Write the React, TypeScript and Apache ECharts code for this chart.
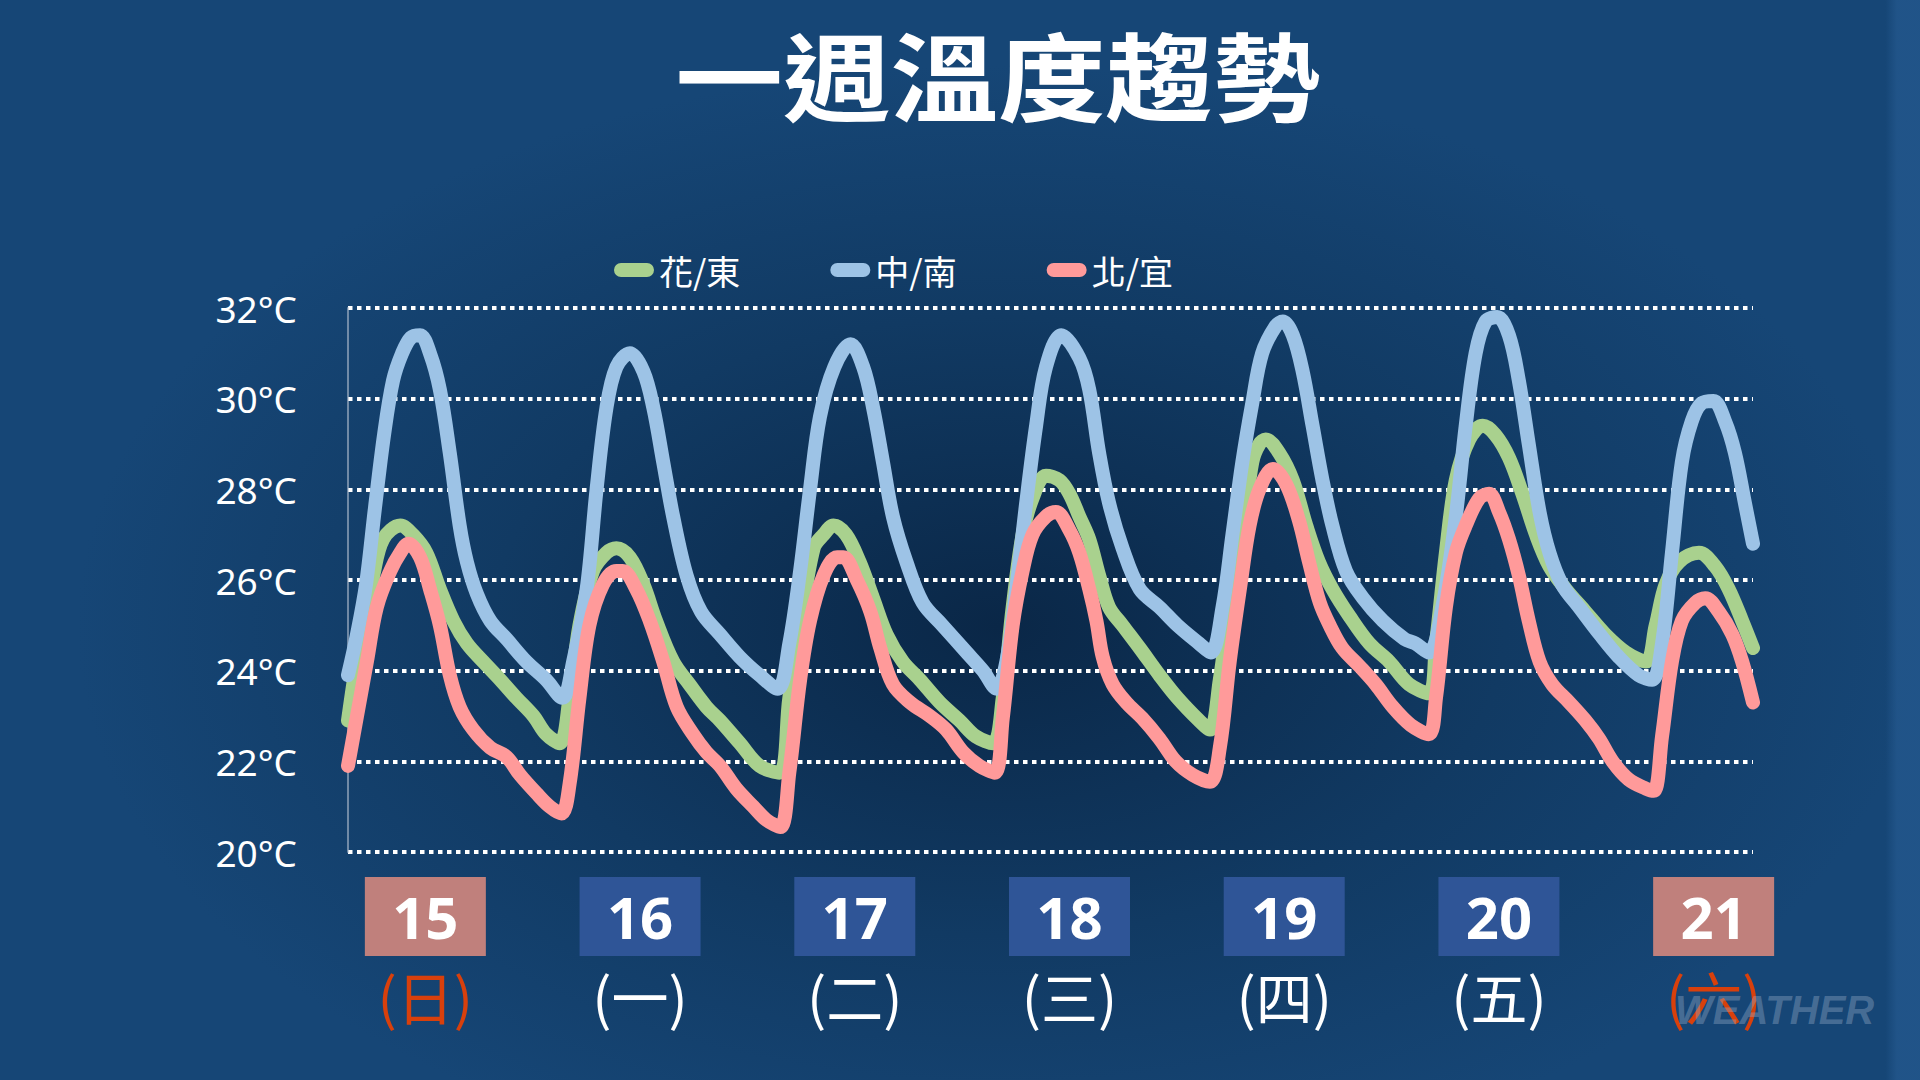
import React, { useEffect, useRef } from "react";
import * as echarts from "echarts";

const chartTitle = "一週溫度趨勢";
const seriesNames = ["花/東", "中/南", "北/宜"];
const seriesColors = ["#a9d18e", "#9dc3e6", "#ff9a9a"];
const dates = ["15", "16", "17", "18", "19", "20", "21"];
const weekdays = ["日", "一", "二", "三", "四", "五", "六"];
const weekendFlags = [true, false, false, false, false, false, true];
const yMin = 20;
const yMax = 32;
const yStep = 2;
const hourSpan = 156;

// [hours since first sample, °C]
const huaDong: [number, number][] = [
  [0, 22.9], [1.3, 24.6], [2.8, 26.1], [3.9, 26.9], [5.8, 27.2], [7.2, 27.0], [8.7, 26.6], [10.2, 25.8], [11.7, 25.1], [13.2, 24.6], [15, 24.2], [16.9, 23.8], [18.7, 23.4], [20.6, 23.0], [22, 22.6], [23.5, 22.4],
  [24.6, 23.4], [25.7, 25.0], [27.2, 26.2], [28.7, 26.6], [29.8, 26.7], [31.3, 26.5], [32.8, 25.9], [34.2, 25.1], [36.1, 24.2], [37.9, 23.7], [39.8, 23.2], [41.3, 22.9], [43.5, 22.4], [45.7, 21.9], [47.9, 21.75],
  [49, 23.4], [50.2, 25.0], [51.7, 26.7], [52.8, 27.0], [53.9, 27.2], [55.3, 27.0], [56.8, 26.4], [58.3, 25.6], [59.8, 24.8], [61.6, 24.2], [63.5, 23.8], [65.7, 23.3], [67.9, 22.9], [69.7, 22.55], [71.6, 22.4],
  [72.7, 23.4], [73.8, 25.4], [74.9, 27.0], [76, 27.8], [77.5, 28.3], [79, 28.2], [80.1, 27.9], [81.2, 27.4], [82.3, 26.9], [83.4, 26.1], [84.5, 25.4], [86, 25.0], [87.9, 24.5], [90.1, 23.9], [92.1, 23.4], [94.5, 22.9], [95.7, 22.7],
  [96.8, 23.8], [97.9, 25.4], [99.3, 27.0], [100.4, 28.6], [101.2, 29.0], [101.9, 29.1], [103.4, 28.8], [104.9, 28.2], [106.4, 27.2], [107.8, 26.4], [109.3, 25.8], [111.2, 25.2], [113.4, 24.6], [115.6, 24.2], [117.8, 23.7], [120, 23.5],
  [120.8, 24.6], [121.9, 26.6], [123, 28.2], [124.5, 29.1], [126, 29.4], [127.4, 29.2], [128.9, 28.7], [130.4, 27.9], [131.9, 27.0], [133.4, 26.3], [135.2, 25.8], [137.4, 25.3], [139.6, 24.8], [141.9, 24.4], [144.1, 24.2],
  [145.2, 25.0], [146.3, 25.9], [147.8, 26.4], [150, 26.6], [151.8, 26.3], [153.3, 25.8], [154.8, 25.1], [156, 24.5],
];

const zhongNan: [number, number][] = [
  [0, 23.9], [1, 24.8], [2, 25.9], [3, 27.6], [4, 29.2], [5, 30.4], [6, 31.0], [7, 31.35], [8, 31.4], [9.1, 31.0], [10.2, 30.2], [11.3, 28.8], [12.4, 27.2], [13.2, 26.4], [14.3, 25.7], [15.8, 25.1], [17.6, 24.7], [19.8, 24.2], [22, 23.8], [23.8, 23.4],
  [25, 24.2], [26.5, 25.8], [27.6, 28.0], [28.7, 29.8], [29.8, 30.7], [31.3, 31.0], [32.8, 30.6], [33.9, 29.8], [35, 28.6], [36.1, 27.4], [37.6, 26.1], [39.2, 25.3], [41.3, 24.8], [43.5, 24.3], [45.7, 23.9], [47.7, 23.6],
  [49, 24.6], [50.2, 26.2], [51.3, 28.0], [52.4, 29.6], [54, 30.7], [55.8, 31.2], [57.2, 30.7], [58.3, 29.8], [59.4, 28.6], [60.5, 27.4], [62, 26.4], [63.8, 25.5], [66, 25.0], [68.7, 24.4], [70.5, 24.0], [72, 23.6],
  [73.1, 24.2], [74.2, 25.8], [75.3, 27.7], [76.4, 29.4], [77.5, 30.7], [79.2, 31.4], [81.2, 30.9], [82.3, 30.2], [83.4, 28.8], [84.5, 27.7], [86, 26.7], [87.9, 25.8], [90.1, 25.4], [92.1, 25.0], [94.5, 24.6], [95.8, 24.4],
  [97.1, 25.4], [98.2, 27.0], [99.3, 28.6], [100.4, 29.9], [101.5, 31.0], [103, 31.6], [103.8, 31.7], [104.9, 31.4], [106, 30.6], [107.1, 29.4], [108.2, 28.2], [109.3, 27.2], [110.8, 26.2], [112.7, 25.6], [114.9, 25.1], [117.3, 24.7], [118.5, 24.6], [120, 24.4],
  [121.5, 25.4], [123, 27.4], [124.1, 29.4], [125.2, 31.0], [126.3, 31.7], [127.6, 31.8], [128.9, 31.4], [130, 30.4], [131.1, 29.0], [132.3, 27.5], [133.4, 26.6], [134.8, 25.9], [136.7, 25.4], [139, 24.8], [141.1, 24.3], [143.3, 23.9], [144.8, 23.8],
  [145.9, 24.6], [147, 26.6], [148.1, 28.6], [149.2, 29.5], [150.3, 29.9], [151.6, 29.95], [152.9, 29.5], [154, 28.8], [155.1, 27.7], [156, 26.8],
];

const beiYi: [number, number][] = [
  [0, 21.9], [1, 23.0], [2.1, 24.2], [3.2, 25.4], [4.7, 26.2], [5.8, 26.6], [6.7, 26.8], [8, 26.5], [9.1, 25.8], [10.2, 25.0], [11.3, 23.9], [12.4, 23.2], [13.9, 22.7], [15.8, 22.3], [17.6, 22.1], [19.1, 21.7], [20.9, 21.3], [22.4, 21.0], [23.7, 20.85],
  [24.6, 21.5], [25.7, 23.4], [26.8, 25.0], [28.3, 25.9], [29.8, 26.2], [30.5, 26.2], [32, 25.8], [33.5, 25.1], [35, 24.2], [36.5, 23.2], [38.3, 22.6], [39.8, 22.2], [41.3, 21.9], [43.1, 21.4], [45, 21.0], [46.5, 20.7], [48, 20.55],
  [49, 21.75], [50.2, 23.8], [51.3, 25.1], [52.8, 26.1], [54.3, 26.5], [55, 26.5], [56.5, 26.0], [58, 25.3], [59.1, 24.5], [60.5, 23.7], [62.4, 23.3], [64.6, 23.0], [66.4, 22.7], [68.3, 22.2], [70.1, 21.9], [71.8, 21.75],
  [72.7, 22.95], [73.8, 25.0], [74.9, 26.2], [76, 27.0], [77.5, 27.4], [78.6, 27.5], [80.1, 27.1], [81.2, 26.6], [82.3, 25.8], [83.1, 25.1], [83.8, 24.3], [84.9, 23.7], [86.4, 23.3], [88.2, 22.95], [90.1, 22.5], [91.9, 22.0], [93.8, 21.7], [95.7, 21.55],
  [96.8, 22.3], [97.9, 24.2], [99.1, 25.9], [100.1, 27.2], [101.2, 28.0], [102.7, 28.45], [104.2, 28.1], [105.6, 27.3], [106.7, 26.4], [107.9, 25.5], [109, 25.0], [110.4, 24.5], [112.3, 24.1], [114.1, 23.7], [116, 23.2], [118, 22.8], [120, 22.6],
  [120.8, 23.4], [121.9, 25.4], [123, 26.6], [124.1, 27.2], [125.6, 27.8], [126.7, 27.9], [127.8, 27.5], [128.9, 26.9], [130, 26.1], [131.1, 25.1], [132.3, 24.2], [133.7, 23.7], [135.6, 23.3], [137.4, 22.9], [138.9, 22.5], [140.4, 22.0], [142.2, 21.6], [144.1, 21.4], [145, 21.35],
  [145.9, 22.55], [147, 24.2], [148.1, 25.1], [149.6, 25.5], [150.7, 25.6], [152.2, 25.3], [153.7, 24.8], [154.8, 24.2], [156, 23.3],
];

const seriesData = [huaDong, zhongNan, beiYi];

export default function App() {
  const ref = useRef<HTMLDivElement>(null);

  useEffect(() => {
    if (!ref.current) return;
    const chart = echarts.init(ref.current, undefined, { renderer: "svg", width: 1920, height: 1080 });

    const cjk = '"Noto Sans CJK TC", "Noto Sans", sans-serif';

    chart.setOption({
      animation: false,
      backgroundColor: "transparent",
      color: seriesColors,
      legend: {
        show: true,
        left: 609,
        top: 248,
        itemWidth: 40,
        itemHeight: 15,
        itemGap: 90,
        icon: "path://M7 0H33A7 7 0 0 1 33 14H7A7 7 0 0 1 7 0Z",
        data: seriesNames,
        textStyle: { color: "#ffffff", fontSize: 34, fontFamily: cjk },
      },
      grid: [
        { left: 348, right: 167, top: 308, bottom: 228, containLabel: false },
        { left: 318, right: 99, top: 308, bottom: 228, containLabel: false },
      ],
      xAxis: [
        {
          type: "value",
          gridIndex: 0,
          min: 0,
          max: hourSpan,
          offset: 4,
          axisLabel: { show: false },
          axisTick: { show: false },
          splitLine: { show: false },
          axisLine: {
            show: true,
            lineStyle: {
              color: "rgba(222,228,236,0.9)",
              width: 4,
              shadowColor: "rgba(0,0,0,0.6)",
              shadowBlur: 4,
              shadowOffsetY: 2,
            },
          },
        },
        {
          type: "category",
          gridIndex: 1,
          data: dates,
          boundaryGap: true,
          axisLine: { show: false },
          axisTick: { show: false },
          splitLine: { show: false },
          axisLabel: {
            interval: 0,
            margin: 25,
            formatter: (val: string, idx: number) => {
              const wk = weekendFlags[idx];
              return wk
                ? `{bw|${val}}\n{ww|(${weekdays[idx]})}`
                : `{b|${val}}\n{w|(${weekdays[idx]})}`;
            },
            rich: {
              b: {
                backgroundColor: "#2f5597",
                color: "#ffffff",
                fontSize: 58,
                fontWeight: "bold",
                fontFamily: '"Noto Sans", sans-serif',
                width: 121,
                height: 79,
                lineHeight: 79,
                align: "center",
              },
              bw: {
                backgroundColor: "#c0807c",
                color: "#ffffff",
                fontSize: 58,
                fontWeight: "bold",
                fontFamily: '"Noto Sans", sans-serif',
                width: 121,
                height: 79,
                lineHeight: 79,
                align: "center",
              },
              w: { color: "#ffffff", fontSize: 57, lineHeight: 78, fontFamily: cjk, align: "center" },
              ww: { color: "#d8400c", fontSize: 57, lineHeight: 78, fontFamily: cjk, align: "center" },
            },
          },
        },
      ],
      yAxis: [
        {
          type: "value",
          gridIndex: 0,
          min: yMin,
          max: yMax,
          interval: yStep,
          axisTick: { show: false },
          axisLine: { show: true, lineStyle: { color: "rgba(175,188,205,0.6)", width: 2 } },
          axisLabel: {
            formatter: "{value}°C",
            color: "#ffffff",
            fontSize: 37,
            fontFamily: '"Noto Sans", sans-serif',
            margin: 51,
          },
          splitLine: {
            show: true,
            lineStyle: { color: "#ffffff", width: 4, type: [4.5, 4.5] },
          },
        },
        { type: "value", gridIndex: 1, show: false },
      ],
      graphic: [
        {
          type: "text",
          x: 998,
          y: 72,
          scaleX: 1.12,
          style: {
            text: chartTitle,
            fill: "#ffffff",
            fontSize: 96,
            fontWeight: "bold",
            fontFamily: cjk,
            align: "center",
            verticalAlign: "middle",
            textAlign: "center",
            textVerticalAlign: "middle",
          },
        },
        {
          type: "text",
          x: 1675,
          y: 1010,
          z: 10,
          style: {
            text: "WEATHER",
            fill: "rgba(150,172,200,0.4)",
            fontSize: 40,
            fontWeight: "bold",
            fontStyle: "italic",
            fontFamily: '"Liberation Sans", sans-serif',
            align: "left",
            verticalAlign: "middle",
            textAlign: "left",
            textVerticalAlign: "middle",
          },
        },
      ],
      series: seriesNames.map((name, i) => ({
        name,
        type: "line",
        xAxisIndex: 0,
        yAxisIndex: 0,
        data: seriesData[i],
        smooth: 0.35,
        showSymbol: false,
        symbol: "none",
        clip: true,
        itemStyle: { color: seriesColors[i] },
        lineStyle: { color: seriesColors[i], width: 14, cap: "round", join: "round" },
        z: 2 + i,
      })),
    });

    return () => chart.dispose();
  }, []);

  return (
    <div
      ref={ref}
      style={{
        position: "absolute",
        left: 0,
        top: 0,
        width: 1920,
        height: 1080,
        background:
          "linear-gradient(to right, rgba(0,0,0,0) 98.2%, rgba(36,88,142,0.75) 98.8%, rgba(36,88,142,0.75) 100%), radial-gradient(ellipse 48% 52% at 52% 58%, #0a2747 0%, #113a63 55%, #164676 100%)",
      }}
    />
  );
}
